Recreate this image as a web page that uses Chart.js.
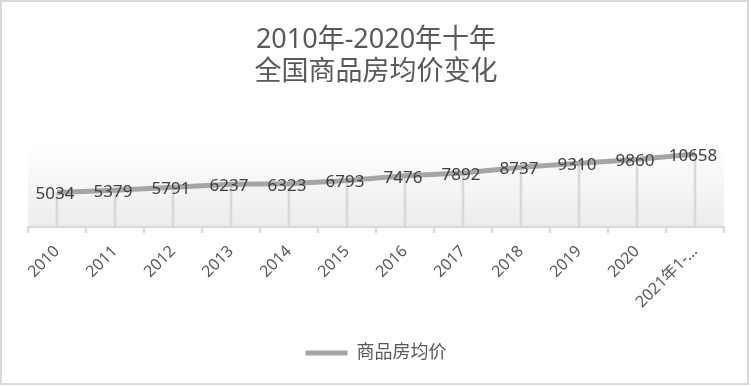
<!DOCTYPE html>
<html>
<head>
<meta charset="utf-8">
<script src="https://cdn.jsdelivr.net/npm/chart.js@4.4.1/dist/chart.umd.min.js"></script>
<style>
  body { margin: 0; background: #fff; }
  canvas { display: block; }
</style>
</head>
<body>
<canvas id="grafica" width="751" height="386"></canvas>
<script>
const anios = ["2010", "2011", "2012", "2013", "2014", "2015", "2016", "2017", "2018", "2019", "2020", "2021年1-…"];
const precios = [5034, 5379, 5791, 6237, 6323, 6793, 7476, 7892, 8737, 9310, 9860, 10658];
const titulo = ["2010年-2020年十年", "全国商品房均价变化"];
const serie = "商品房均价";

const fuente = '"Noto Sans", "Noto Sans CJK SC", sans-serif';
const gris = "#a5a5a5";

// fondo degradado del área de trazado
const fondo = {
  id: "fondo",
  beforeDraw(chart) {
    const { ctx, chartArea: a } = chart;
    const g = ctx.createLinearGradient(0, a.top, 0, a.bottom);
    g.addColorStop(0, "#ffffff");
    g.addColorStop(1, "#ececec");
    ctx.save();
    ctx.fillStyle = g;
    ctx.fillRect(a.left, a.top, a.right - a.left, a.bottom - a.top);
    ctx.restore();
  },
  afterDraw(chart) {
    const ctx = chart.ctx;
    ctx.save();
    ctx.strokeStyle = "#d9d9d9";
    ctx.lineWidth = 2;
    ctx.strokeRect(1, 1, 747, 383);
    ctx.restore();
  }
};

// etiquetas de valores
const etiquetas = {
  id: "etiquetas",
  afterDatasetsDraw(chart) {
    const ctx = chart.ctx;
    const meta = chart.getDatasetMeta(0);
    ctx.save();
    ctx.font = "17px " + fuente;
    ctx.fillStyle = "#404040";
    ctx.textAlign = "center";
    ctx.textBaseline = "middle";
    meta.data.forEach((p, i) => {
      ctx.fillText(String(precios[i]), p.x - 2, p.y + 2);
    });
    ctx.restore();
  }
};

const ctx = document.getElementById("grafica").getContext("2d");
const chart = new Chart(ctx, {
  type: "line",
  data: {
    labels: anios,
    datasets: [{
      label: serie,
      data: precios,
      borderColor: gris,
      backgroundColor: gris,
      borderWidth: 5,
      pointRadius: 0,
      tension: 0,
      order: 1
    }, {
      type: "bar",
      label: "_drop",
      data: precios,
      backgroundColor: "#d9d9d9",
      barThickness: 2,
      order: 2
    }]
  },
  plugins: [fondo, etiquetas],
  options: {
    responsive: false,
    animation: false,
    devicePixelRatio: 1,
    layout: { padding: { left: 28, right: 27, top: 0, bottom: 14 } },
    plugins: {
      title: {
        display: true,
        text: titulo,
        color: "#595959",
        font: { family: fuente, size: 27, weight: "normal", lineHeight: 1.2 },
        padding: { top: 24, bottom: 56 }
      },
      legend: {
        position: "bottom",
        labels: {
          filter: (item) => item.text !== "_drop",
          usePointStyle: true,
          pointStyle: "line",
          pointStyleWidth: 42,
          color: "#595959",
          font: { family: fuente, size: 18 },
          padding: 10
        }
      },
      tooltip: { enabled: false }
    },
    scales: {
      x: {
        offset: true,
        grid: {
          offset: true,
          drawOnChartArea: false,
          color: "#d9d9d9",
          lineWidth: 2,
          tickLength: 6
        },
        border: { color: "#d9d9d9", width: 2 },
        ticks: {
          color: "#595959",
          font: { family: fuente, size: 16 },
          minRotation: 45,
          maxRotation: 45,
          autoSkip: false,
          padding: 9
        },
        afterFit: (s) => { s.height = 107; }
      },
      y: {
        display: false,
        min: 0,
        max: 12000
      }
    }
  }
});
</script>
</body>
</html>
